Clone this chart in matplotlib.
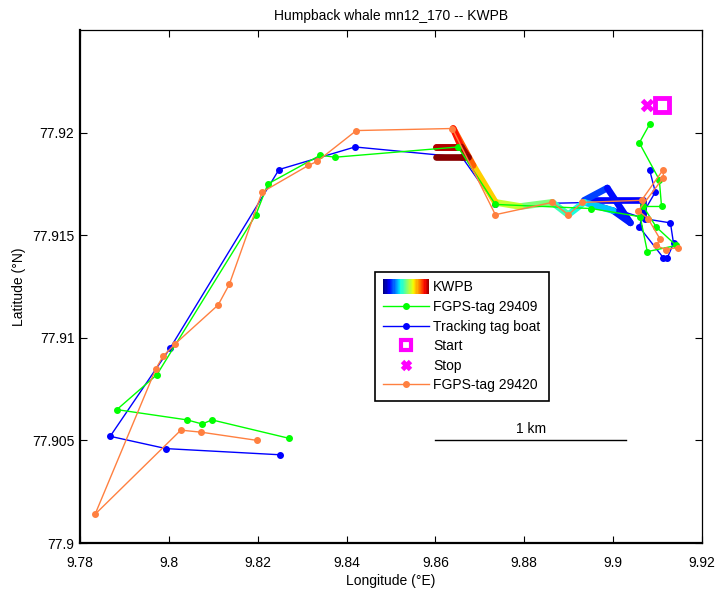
import numpy as np
import matplotlib
matplotlib.use("Agg")
import matplotlib.pyplot as plt
from matplotlib.collections import LineCollection
from matplotlib.legend_handler import HandlerBase
from matplotlib.lines import Line2D
from matplotlib.patches import Rectangle

plt.rcParams['font.family'] = ['Liberation Sans', 'DejaVu Sans']

# FGPS-tag 29409 (green)
green_lon = [9.9082, 9.9059, 9.9104, 9.9109, 9.9068, 9.9097, 9.9142, 9.9077, 9.9061, 9.8951,
             9.8735, 9.8651, 9.8374, 9.8341, 9.8223, 9.8196, 9.7973, 9.7883, 9.8041, 9.8075,
             9.8097, 9.8271]
green_lat = [77.9204, 77.9195, 77.9177, 77.9164, 77.9164, 77.9154, 77.9145, 77.9142, 77.9159, 77.9163,
             77.9165, 77.9193, 77.9188, 77.9189, 77.9175, 77.9160, 77.9082, 77.9065, 77.9060, 77.9058,
             77.9060, 77.9051]

# tracking tag boat (blue)
blue_lon = [9.9082, 9.9095, 9.9068, 9.9059, 9.9113, 9.9122, 9.9136, 9.9129, 9.9072, 9.8960,
            9.8735, 9.8660, 9.8419, 9.8248, 9.8003, 9.7868, 9.7994, 9.8250]
blue_lat = [77.9182, 77.9171, 77.9161, 77.9154, 77.9139, 77.9139, 77.9146, 77.9156, 77.9158, 77.9166,
            77.9165, 77.9188, 77.9193, 77.9182, 77.9095, 77.9052, 77.9046, 77.9043]

# FGPS-tag 29420 (orange)
orange_lon = [9.9145, 9.9118, 9.9097, 9.9106, 9.9079, 9.9057, 9.9113, 9.9113, 9.9064, 9.8931,
              9.8899, 9.8863, 9.8735, 9.8638, 9.8422, 9.8334, 9.8314, 9.8210, 9.8136, 9.8111,
              9.8014, 9.7987, 9.7971, 9.7834, 9.8027, 9.8073, 9.8199]
orange_lat = [77.9144, 77.9143, 77.9145, 77.9148, 77.9158, 77.9162, 77.9178, 77.9182, 77.9167, 77.9166,
              77.9160, 77.9166, 77.9160, 77.9202, 77.9201, 77.9186, 77.9184, 77.9171, 77.9126, 77.9116,
              77.9097, 77.9091, 77.9085, 77.9014, 77.9055, 77.9054, 77.9050]

# KWPB track, coloured by a 0..1 value (jet)
kwpb_lon = [9.9068, 9.9068, 9.8935, 9.8987, 9.9039, 9.9000, 9.8935, 9.8899, 9.8863, 9.8791,
            9.8735, 9.8685, 9.8640, 9.8658, 9.8602, 9.8658, 9.8674, 9.8602]
kwpb_lat = [77.9160, 77.9167, 77.9167, 77.9173, 77.9156, 77.9162, 77.9166, 77.9160, 77.9166, 77.9164,
            77.9166, 77.9184, 77.9202, 77.9193, 77.9193, 77.9193, 77.9188, 77.9188]
kwpb_val = [0.08, 0.10, 0.13, 0.25, 0.02, 0.28, 0.36, 0.40, 0.45, 0.55,
            0.63, 0.75, 0.86, 0.92, 0.95, 0.96, 0.98, 1.00]

start_lon, start_lat = [9.9109], [77.92136]
stop_lon, stop_lat = [9.9077], [77.92136]

orange = '#ff8040'
magenta = '#ff00ff'


class GradientHandler(HandlerBase):
    # draws the jet colour strip used for KWPB in the legend
    def create_artists(self, legend, orig_handle, xdescent, ydescent, width, height, fontsize, trans):
        n = 40
        xs = np.linspace(0, width, n + 1) - xdescent
        cmap = plt.get_cmap('jet')
        h = height * 1.6
        y0 = -ydescent + (height - h) / 2
        return [Rectangle((xs[i], y0), xs[i + 1] - xs[i] + 0.3, h, facecolor=cmap(i / n),
                          edgecolor='none', transform=trans) for i in range(n)]


class KwpbProxy:
    pass


fig = plt.figure(figsize=(7.16, 5.93), dpi=100)
ax = fig.add_axes([0.1117, 0.0843, 0.8687, 0.8651])

# boat track goes under the KWPB line
ax.plot(blue_lon, blue_lat, '-o', color='b', lw=1, ms=4, zorder=2)

pts = np.column_stack([kwpb_lon, kwpb_lat])
segs = np.stack([pts[:-1], pts[1:]], axis=1)
seg_val = (np.array(kwpb_val[:-1]) + np.array(kwpb_val[1:])) / 2
lc = LineCollection(segs, cmap='jet', linewidths=4.8, capstyle='round', joinstyle='round', zorder=3)
lc.set_array(seg_val)
lc.set_clim(0, 1)
ax.add_collection(lc)

ax.plot(green_lon, green_lat, '-o', color='#00ff00', lw=1, ms=4, zorder=4)
ax.plot(orange_lon, orange_lat, '-o', color=orange, lw=1, ms=4, zorder=5)
ax.plot(start_lon, start_lat, 's', color=magenta, mfc='none', mew=3.5, ms=9.5, zorder=6)
ax.plot(stop_lon, stop_lat, 'x', color=magenta, mew=3.5, ms=7, zorder=6)

# 1 km scale bar
ax.plot([9.86, 9.9029], [77.905, 77.905], 'k', lw=1)
ax.text(9.8815, 77.9052, '1 km', ha='center', va='bottom', fontsize=10)

ax.set_xlim(9.78, 9.92)
ax.set_ylim(77.9, 77.925)
ax.set_xticks([9.78, 9.8, 9.82, 9.84, 9.86, 9.88, 9.9, 9.92])
ax.set_yticks([77.9, 77.905, 77.91, 77.915, 77.92])
ax.set_xticklabels(['%g' % v for v in ax.get_xticks()])
ax.set_yticklabels(['%g' % v for v in ax.get_yticks()])
ax.tick_params(direction='in', top=True, right=True, length=5, labelsize=10)
ax.tick_params(axis='x', pad=9)
ax.tick_params(axis='y', pad=4)
for s in ['left', 'bottom']:
    ax.spines[s].set_linewidth(1.6)
for s in ['top', 'right']:
    ax.spines[s].set_linewidth(0.9)

ax.set_title('Humpback whale mn12_170 -- KWPB', fontsize=10, pad=7)
ax.set_xlabel('Longitude (°E)', fontsize=10, labelpad=3)
ax.set_ylabel('Latitude (°N)', fontsize=10, labelpad=4)

handles = [KwpbProxy(),
           Line2D([], [], color='#00ff00', marker='o', ms=4, lw=1),
           Line2D([], [], color='b', marker='o', ms=4, lw=1),
           Line2D([], [], color=magenta, marker='s', mfc='none', mew=3, ms=7, ls='none'),
           Line2D([], [], color=magenta, marker='x', mew=3.5, ms=6, ls='none'),
           Line2D([], [], color=orange, marker='o', ms=4, lw=1)]
labels = ['KWPB', 'FGPS-tag 29409', 'Tracking tag boat', 'Start', 'Stop', 'FGPS-tag 29420']
leg = ax.legend(handles, labels, handler_map={KwpbProxy: GradientHandler()},
                loc='upper left', bbox_to_anchor=(0.474, 0.528), fontsize=10,
                handlelength=3.3, handletextpad=0.3, labelspacing=0.4,
                borderpad=0.6, borderaxespad=0, fancybox=False, framealpha=1)
leg.get_frame().set_edgecolor('k')
leg.get_frame().set_linewidth(1.2)

fig.savefig('out.png', dpi=100)
